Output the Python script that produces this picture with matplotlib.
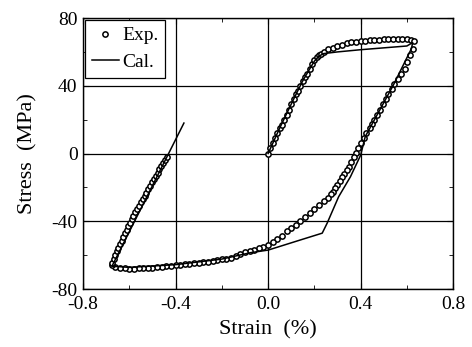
import matplotlib
matplotlib.use("Agg")
import matplotlib.pyplot as plt
from matplotlib.ticker import FixedLocator, FixedFormatter, MultipleLocator

# experimental points: monotonic loading from the origin up to the peak
exp_load_strain = [0.00, 0.01, 0.02, 0.03, 0.04, 0.05, 0.06, 0.07, 0.08, 0.09, 0.10, 0.11,
                   0.12, 0.13, 0.14, 0.15, 0.16, 0.17, 0.18, 0.19, 0.20, 0.21, 0.22, 0.23,
                   0.24, 0.26, 0.28, 0.30, 0.32, 0.34, 0.36, 0.38, 0.40, 0.42, 0.44, 0.46,
                   0.48, 0.50, 0.52, 0.54, 0.56, 0.58, 0.60, 0.62, 0.63]
exp_load_stress = [0, 3, 6, 9, 12, 15, 17, 20, 23, 26, 29, 32,
                   35, 37, 40, 43, 45, 47, 50, 53, 55, 57, 58, 59,
                   60, 61.5, 62.5, 63.5, 64.3, 65, 65.6, 66, 66.3, 66.6, 66.9, 67.1,
                   67.3, 67.4, 67.5, 67.6, 67.6, 67.6, 67.5, 67.3, 66.5]

# experimental points: unloading and reverse loading down to the minimum
exp_unload_strain = [0.625, 0.615, 0.60, 0.59, 0.575, 0.56, 0.545, 0.535, 0.52, 0.51, 0.495,
                     0.485, 0.47, 0.46, 0.45, 0.44, 0.425, 0.415, 0.40, 0.39, 0.38, 0.37,
                     0.36, 0.35, 0.34, 0.33, 0.32, 0.31, 0.30, 0.29, 0.28, 0.27, 0.26, 0.24,
                     0.22, 0.20, 0.18, 0.16, 0.14, 0.12, 0.10, 0.08, 0.06, 0.04, 0.02, 0.00,
                     -0.02, -0.04, -0.06, -0.08, -0.10, -0.12, -0.14, -0.16, -0.18, -0.20,
                     -0.22, -0.24, -0.26, -0.28, -0.30, -0.32, -0.34, -0.36, -0.38, -0.40,
                     -0.42, -0.44, -0.46, -0.48, -0.50, -0.52, -0.54, -0.56, -0.58, -0.60,
                     -0.62, -0.64, -0.66, -0.675]
exp_unload_stress = [62, 58, 54, 50, 47, 44, 41, 38, 35, 32, 29,
                     26, 23, 20, 17.5, 15, 12, 9, 6, 3, 0.5, -2,
                     -5, -8, -10, -12, -14, -16, -18.5, -20.5, -22.5, -24, -26, -28,
                     -30.5, -33, -35, -37.5, -40, -42, -44, -46, -48.5, -50.5, -52.5, -54,
                     -55, -56, -57, -57.7, -58.3, -59.5, -60.5, -61.5, -62, -62.5,
                     -63, -63.3, -63.8, -64.2, -64.5, -64.8, -65.1, -65.4, -65.7, -66,
                     -66.3, -66.6, -66.9, -67.1, -67.3, -67.5, -67.7, -67.8, -67.9, -68,
                     -67.8, -67.5, -67, -66]

# experimental points: reloading from the minimum
exp_reload_strain = [-0.675, -0.668, -0.661, -0.654, -0.647, -0.640, -0.633, -0.626, -0.619,
                     -0.612, -0.605, -0.598, -0.590, -0.582, -0.574, -0.566, -0.558, -0.550,
                     -0.542, -0.534, -0.526, -0.518, -0.510, -0.502, -0.494, -0.486, -0.478,
                     -0.470, -0.462, -0.454, -0.446, -0.438]
exp_reload_stress = [-64.5, -62.2, -60, -57.8, -55.6, -53.5, -51.4, -49.3, -47.2,
                     -45.1, -43, -41, -38.8, -36.7, -34.7, -32.7, -30.7, -28.8,
                     -26.9, -25, -23, -21, -19, -17, -15.1, -13.2, -11.3,
                     -9.4, -7.5, -5.6, -3.7, -1.8]

# calculated curve
cal_strain = [0.0, 0.05, 0.11, 0.15, 0.18, 0.20, 0.22, 0.24, 0.30, 0.40, 0.50, 0.60, 0.625,
              0.62, 0.54, 0.48, 0.42, 0.40, 0.356, 0.305, 0.255, 0.234, 0.14, 0.0,
              -0.075, -0.2, -0.4, -0.6, -0.675, -0.364]
cal_stress = [0, 15, 32, 43, 50, 54.5, 57.5, 59, 60, 61.3, 62.4, 63.5, 65.5,
              62, 40, 25, 10, -1, -13.7, -25.5, -41.2, -47, -51, -57,
              -58.5, -62.3, -65.6, -67.2, -66.5, 18]

x_ticks = [-0.8, -0.4, 0.0, 0.4, 0.8]
x_labels = ["-0.8", "-0.4", "0.0", "0.4", "0.8"]
y_ticks = [-80, -40, 0, 40, 80]
y_labels = ["-80", "-40", "0", "40", "80"]

plt.rcParams["font.family"] = ["Liberation Serif", "DejaVu Serif"]
plt.rcParams["axes.unicode_minus"] = False

fig = plt.figure(figsize=(4.72, 3.47), dpi=100)
ax = fig.add_axes([0.176, 0.167, 0.784, 0.781])

ax.grid(True, color="black", linewidth=0.9)
ax.set_axisbelow(True)

exp_x = exp_load_strain + exp_unload_strain + exp_reload_strain
exp_y = exp_load_stress + exp_unload_stress + exp_reload_stress
ax.plot(exp_x, exp_y, linestyle="none", marker="o", markersize=3.8,
        markerfacecolor="white", markeredgecolor="black", markeredgewidth=1.1,
        label="Exp.")
ax.plot(cal_strain, cal_stress, color="black", linewidth=1.1, label="Cal.")

ax.set_xlim(-0.8, 0.8)
ax.set_ylim(-80, 80)
ax.xaxis.set_major_locator(FixedLocator(x_ticks))
ax.xaxis.set_major_formatter(FixedFormatter(x_labels))
ax.yaxis.set_major_locator(FixedLocator(y_ticks))
ax.yaxis.set_major_formatter(FixedFormatter(y_labels))
ax.xaxis.set_minor_locator(MultipleLocator(0.2))
ax.yaxis.set_minor_locator(MultipleLocator(20))
ax.tick_params(which="both", direction="in", top=True, right=True, labelsize=14,
               colors="black")
ax.tick_params(axis="x", pad=5)
ax.tick_params(axis="y", pad=4)
ax.tick_params(which="major", length=4)
ax.tick_params(which="minor", length=3)
for s in ax.spines.values():
    s.set_linewidth(1.0)

ax.set_xlabel("Strain  (%)", fontsize=16, labelpad=5)
ax.set_ylabel("Stress  (MPa)", fontsize=16, labelpad=10)

leg = ax.legend(loc="upper left", fontsize=14, frameon=True, fancybox=False,
                edgecolor="black", framealpha=1, borderaxespad=0.1,
                handlelength=1.4, handletextpad=0.15, borderpad=0.35,
                labelspacing=0.45)
leg.get_frame().set_linewidth(0.9)

fig.savefig("out.png", dpi=100)
